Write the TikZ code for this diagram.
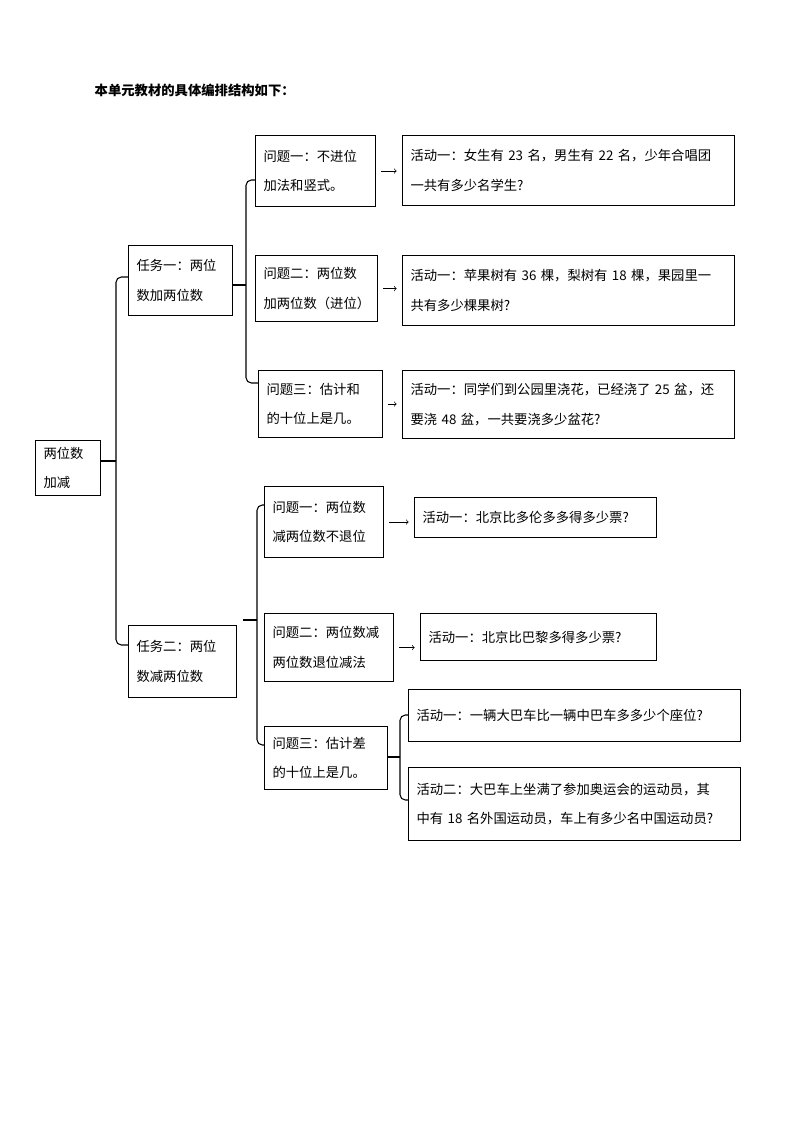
\documentclass[tikz,border=0pt]{standalone}
\usepackage{fontspec}
\newfontfamily\cjk{Noto Sans CJK SC}
\usetikzlibrary{positioning,arrows}
\tikzset{
    x=0.75pt,
    y=-0.75pt,
    box/.style 2 args = {
        draw,
        anchor=north west,
        shape=rectangle,
        align=left,
        inner xsep=6pt,
        minimum width=#1*0.75pt,
        text width=\dimexpr #1pt*3/4-12pt\relax,
        minimum height=#2*0.75pt,
        line width=0.8pt,
        font=\cjk\fontsize{10}{22}\selectfont
    },
    brace/.style = {
        draw,
        rounded corners=4pt,
        line width=0.8pt
    },
    link/.style = {
        draw,
        ->,
        >=to,
        line width=0.5pt
    },
}

\begin{document}
\begin{tikzpicture}
            \useasboundingbox (0,0) rectangle (794,1123);
            \node[anchor=west, font=\cjk\bfseries\fontsize{10}{12}\selectfont] (title) at (90,90) {本单元教材的具体编排结构如下：};

            \node[box={65}{55}] (root) at (35,440) {两位数\\加减};
            \node[box={104}{70}] (t1) at (128,245) {任务一：两位\\数加两位数};
            \node[box={108}{72}] (t2) at (128,625) {任务二：两位\\数减两位数};

            \node[box={120}{71}] (q1) at (255,135) {问题一：不进位\\加法和竖式。};
            \node[box={122}{66}] (q2) at (255,255) {问题二：两位数\\加两位数（进位）};
            \node[box={124}{67}] (q3) at (258,370) {问题三：估计和\\的十位上是几。};
            \node[box={119}{71}] (q4) at (264,486) {问题一：两位数\\减两位数不退位};
            \node[box={129}{68}] (q5) at (264,613) {问题二：两位数减\\两位数退位减法};
            \node[box={123}{63}] (q6) at (264,726) {问题三：估计差\\的十位上是几。};

            \node[box={332}{70}] (a1) at (402,135) {活动一：女生有 23 名，男生有 22 名，少年合唱团\\一共有多少名学生?};
            \node[box={332}{70}] (a2) at (402,255) {活动一：苹果树有 36 棵，梨树有 18 棵，果园里一\\共有多少棵果树?};
            \node[box={332}{68}] (a3) at (402,370) {活动一：同学们到公园里浇花，已经浇了 25 盆，还\\要浇 48 盆，一共要浇多少盆花?};
            \node[box={242}{40}] (a4) at (414,497) {活动一：北京比多伦多多得多少票?};
            \node[box={236}{47}] (a5) at (420,613) {活动一：北京比巴黎多得多少票?};
            \node[box={332}{52}] (a6) at (408,689) {活动一：一辆大巴车比一辆中巴车多多少个座位?};
            \node[box={332}{73}] (a7) at (408,767) {活动二：大巴车上坐满了参加奥运会的运动员，其\\中有 18 名外国运动员，车上有多少名中国运动员?};

            % braces
            \path[brace] (t1.west |- 0,277) -- (116,277) -- (116,645) -- (t2.west |- 0,645);
            \path[draw, line width=0.8pt] (root.east |- 0,461) -- (116,461);
            \path[brace] (q1.west |- 0,180) -- (246,180) -- (246,383) -- (q3.west |- 0,383);
            \path[draw, line width=0.8pt] (t1.east |- 0,285) -- (246,285);
            \path[brace] (q4.west |- 0,505) -- (257,505) -- (257,745) -- (q6.west |- 0,745);
            \path[draw, line width=0.8pt] (243,620) -- (257,620);
            \path[brace] (a6.west |- 0,715) -- (400,715) -- (400,800) -- (a7.west |- 0,800);
            \path[draw, line width=0.8pt] (q6.east |- 0,757) -- (400,757);

            % arrows
            \path[link] ([xshift=4pt]q1.east) -- ([xshift=-4pt]a1.west |- q1.east);
            \path[link] ([xshift=4pt]q2.east) -- ([xshift=-4pt]a2.west |- q2.east);
            \path[link] ([xshift=4pt]q3.east) -- ([xshift=-4pt]a3.west |- q3.east);
            \path[link] ([xshift=4pt]q4.east) -- ([xshift=-4pt]a4.west |- q4.east);
            \path[link] ([xshift=4pt]q5.east) -- ([xshift=-4pt]a5.west |- q5.east);
        \end{tikzpicture}
\end{document}
